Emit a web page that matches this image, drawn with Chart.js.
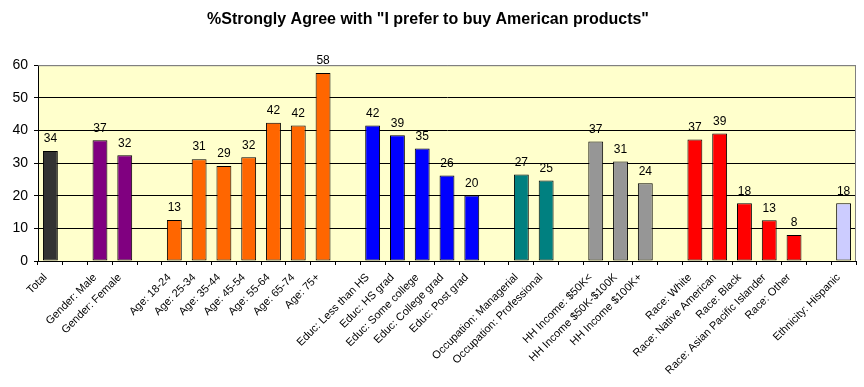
<!DOCTYPE html>
<html>
<head>
<meta charset="utf-8">
<script src="https://cdn.jsdelivr.net/npm/chart.js@4/dist/chart.umd.min.js"></script>
<style>
  html, body { margin: 0; padding: 0; background: #fff; }
  #wrap { width: 864px; height: 387px; }
</style>
</head>
<body>
<div id="wrap"><canvas id="chart"></canvas></div>
<script>
// Kategori (kosong = jarak antar kelompok)
const categories = [
    'Total', '',
    'Gender: Male', 'Gender: Female', '',
    'Age: 18-24', 'Age: 25-34', 'Age: 35-44', 'Age: 45-54', 'Age: 55-64', 'Age: 65-74', 'Age: 75+', '',
    'Educ: Less than HS', 'Educ: HS grad', 'Educ: Some college', 'Educ: College grad', 'Educ: Post grad', '',
    'Occupation: Managerial', 'Occupation: Professional', '',
    'HH Income: $50K<', 'HH Income $50K-$100K', 'HH Income $100K+', '',
    'Race: White', 'Race: Native American', 'Race: Black', 'Race: Asian Pacific Islander', 'Race: Other', '',
    'Ethnicity: Hispanic'
];

const values = [
    33.7, null,
    37.0, 32.4, null,
    12.6, 31.2, 29.1, 31.8, 42.4, 41.5, 57.6, null,
    41.5, 38.5, 34.5, 26.2, 20.1, null,
    26.5, 24.7, null,
    36.6, 30.5, 23.8, null,
    37.2, 39.1, 17.7, 12.5, 8.0, null,
    17.7
];

const barColors = [
    '#333333', null,
    '#800080', '#800080', null,
    '#FF6600', '#FF6600', '#FF6600', '#FF6600', '#FF6600', '#FF6600', '#FF6600', null,
    '#0000FF', '#0000FF', '#0000FF', '#0000FF', '#0000FF', null,
    '#008080', '#008080', null,
    '#969696', '#969696', '#969696', null,
    '#FF0000', '#FF0000', '#FF0000', '#FF0000', '#FF0000', null,
    '#CCCCFF'
];

const yTicks = [0, 10, 20, 30, 40, 50, 60];

const FONT = '"Liberation Sans", Arial, sans-serif';

// Latar kuning area plot dan bingkai abu-abu
const plotArea = {
    id: 'plotArea',
    beforeDraw(chart) {
        const { ctx, chartArea: a } = chart;
        ctx.save();
        ctx.fillStyle = '#FFFFCC';
        ctx.fillRect(a.left, a.top, a.right - a.left, a.bottom - a.top);
        ctx.restore();
    },
    afterDraw(chart) {
        const { ctx, chartArea: a } = chart;
        ctx.save();
        ctx.strokeStyle = '#808080';
        ctx.lineWidth = 1;
        ctx.beginPath();
        ctx.moveTo(a.left, a.top + 0.5);
        ctx.lineTo(a.right - 0.5, a.top + 0.5);
        ctx.lineTo(a.right - 0.5, a.bottom);
        ctx.stroke();
        ctx.restore();
    }
};

// Angka di atas batang
const valueLabels = {
    id: 'valueLabels',
    afterDatasetsDraw(chart) {
        const { ctx } = chart;
        const meta = chart.getDatasetMeta(0);
        ctx.save();
        ctx.font = '12px ' + FONT;
        ctx.fillStyle = '#000';
        ctx.textAlign = 'center';
        ctx.textBaseline = 'bottom';
        meta.data.forEach((bar, i) => {
            if (values[i] == null) return;
            ctx.fillText(Math.round(values[i]), bar.x, bar.y - 6);
        });
        ctx.restore();
    }
};

new Chart(document.getElementById('chart'), {
    type: 'bar',
    data: {
        labels: categories,
        datasets: [{
            data: values,
            backgroundColor: barColors,
            borderColor: '#000',
            borderWidth: 1,
            borderSkipped: false,
            categoryPercentage: 1,
            barPercentage: 0.6
        }]
    },
    options: {
        responsive: true,
        maintainAspectRatio: false,
        animation: false,
        layout: { padding: { left: 0, right: 8, top: 0, bottom: 0 } },
        plugins: {
            legend: { display: false },
            tooltip: { enabled: false },
            title: {
                display: true,
                text: '%Strongly Agree with "I prefer to buy American products"',
                color: '#000',
                font: { family: FONT, size: 16, weight: 'bold' },
                padding: { top: 10, bottom: 36 }
            }
        },
        scales: {
            x: {
                grid: {
                    offset: true,
                    drawOnChartArea: false,
                    drawTicks: true,
                    tickLength: 4,
                    color: '#000'
                },
                border: { color: '#000', width: 1 },
                ticks: {
                    autoSkip: false,
                    maxRotation: 45,
                    minRotation: 45,
                    padding: 6,
                    labelOffset: -5,
                    color: '#000',
                    font: { family: FONT, size: 11 }
                },
                afterFit(scale) { scale.height = 126; }
            },
            y: {
                min: 0,
                max: 60,
                afterBuildTicks(scale) { scale.ticks = yTicks.map(v => ({ value: v })); },
                grid: {
                    color: (c) => c.tick && c.tick.value === 60 ? '#808080' : '#000',
                    tickLength: 4,
                    tickColor: '#000'
                },
                border: { color: '#000', width: 1 },
                ticks: {
                    padding: 6,
                    color: '#000',
                    font: { family: FONT, size: 14 }
                },
                afterFit(scale) { scale.width = 38; }
            }
        }
    },
    plugins: [plotArea, valueLabels]
});
</script>
</body>
</html>
